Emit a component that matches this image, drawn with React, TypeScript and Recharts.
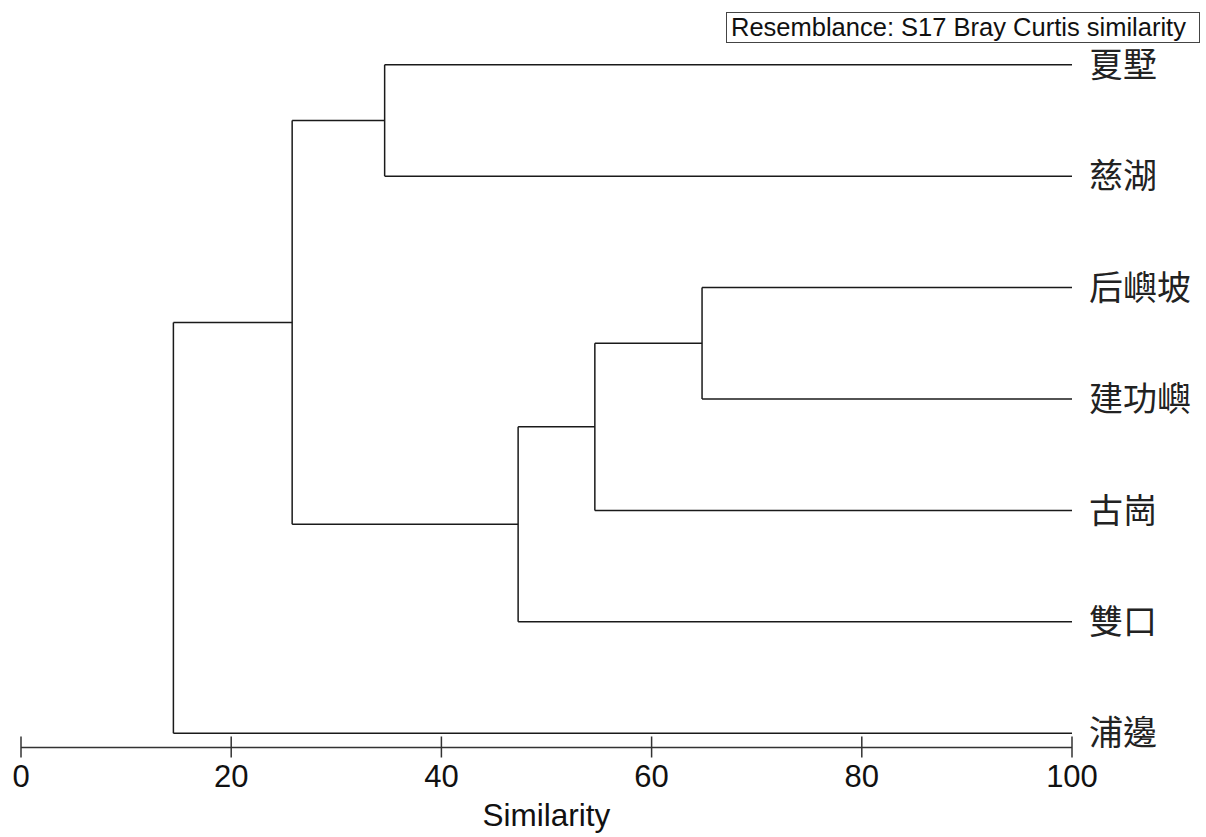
import React from 'react';
import { ComposedChart, XAxis, YAxis, ReferenceLine } from 'recharts';

// Leaves (top to bottom)
const leaves = ['夏墅', '慈湖', '后嶼坡', '建功嶼', '古崗', '雙口', '浦邊'];
// Merge steps: indices < leaves.length are leaves, others are earlier clusters (leaves.length + step)
const mergeLeft = [0, 2, 8, 9, 7, 11];
const mergeRight = [1, 3, 4, 5, 10, 6];
const mergeSimilarity = [34.6, 64.8, 54.6, 47.3, 25.8, 14.5];
const xTicks = [0, 20, 40, 60, 80, 100];
const leafIndex = leaves.map((_, i) => i);
const legendText = 'Resemblance: S17 Bray Curtis similarity';
const axisTitle = 'Similarity';

type Seg = { x1: number; y1: number; x2: number; y2: number };

function buildSegments(): Seg[] {
  const nodeX: number[] = leaves.map(() => 100);
  const nodeY: number[] = leaves.map((_, i) => i);
  const segs: Seg[] = [];
  mergeSimilarity.forEach((s, k) => {
    const a = mergeLeft[k];
    const b = mergeRight[k];
    segs.push({ x1: nodeX[a], y1: nodeY[a], x2: s, y2: nodeY[a] });
    segs.push({ x1: nodeX[b], y1: nodeY[b], x2: s, y2: nodeY[b] });
    segs.push({ x1: s, y1: nodeY[a], x2: s, y2: nodeY[b] });
    nodeX.push(s);
    nodeY.push((nodeY[a] + nodeY[b]) / 2);
  });
  return segs;
}

const segments = buildSegments();
const LINE = '#1a1a1a';

const XTick = (props: any) => {
  const { x, y, payload } = props;
  const axisY = y - 17;
  return (
    <g>
      <line x1={x} x2={x} y1={axisY - 11} y2={axisY + 10} stroke="#333" strokeWidth={1.5} />
      <text
        x={x}
        y={y}
        dy="0.72em"
        textAnchor="middle"
        fontFamily="Liberation Sans, Arial, sans-serif"
        fontSize={31}
        fill="#111"
      >
        {payload.value}
      </text>
    </g>
  );
};

export default function App() {
  return (
    <div
      style={{
        position: 'absolute',
        left: 0,
        top: 0,
        width: 1206,
        height: 837,
        overflow: 'hidden',
        background: '#fff',
      }}
    >
      <ComposedChart
        width={1206}
        height={837}
        data={[]}
        margin={{ top: 9, right: 0, bottom: 4.5, left: 21 }}
      >
        <XAxis
          type="number"
          dataKey="x"
          domain={[0, 100]}
          ticks={xTicks}
          allowDataOverflow
          height={85}
          tickSize={10}
          tickMargin={7}
          tickLine={false}
          axisLine={{ stroke: '#333', strokeWidth: 1.5 }}
          tick={<XTick />}
          interval={0}
          label={{
            value: axisTitle,
            position: 'insideBottom',
            offset: 7,
            fontSize: 31.5,
            fill: '#111',
            fontFamily: 'Liberation Sans, Arial, sans-serif',
          }}
        />
        <YAxis
          yAxisId="y"
          type="number"
          orientation="right"
          domain={[-0.5, 6.1275]}
          reversed
          allowDataOverflow
          ticks={leafIndex}
          interval={0}
          width={134}
          axisLine={false}
          tickLine={false}
          tickSize={0}
          tickMargin={17}
          tickFormatter={(v: number) => leaves[v] ?? ''}
          tick={{
            fontSize: 34,
            fill: '#222',
            fontFamily: 'Noto Sans CJK TC, Noto Sans CJK SC, sans-serif',
            textAnchor: 'start',
          }}
        />
        {segments.map((s, i) => (
          <ReferenceLine
            key={i}
            yAxisId="y"
            segment={[
              { x: s.x1, y: s.y1 },
              { x: s.x2, y: s.y2 },
            ]}
            stroke={LINE}
            strokeWidth={1.5}
            ifOverflow="visible"
          />
        ))}
      </ComposedChart>
      <div
        style={{
          position: 'absolute',
          left: 726,
          top: 12,
          width: 474,
          height: 31,
          boxSizing: 'border-box',
          border: '1.5px solid #444',
          fontFamily: 'Liberation Sans, Arial, sans-serif',
          fontSize: 25.5,
          lineHeight: '28px',
          color: '#111',
          paddingLeft: 4,
          whiteSpace: 'nowrap',
          background: '#fff',
        }}
      >
        {legendText}
      </div>
    </div>
  );
}
